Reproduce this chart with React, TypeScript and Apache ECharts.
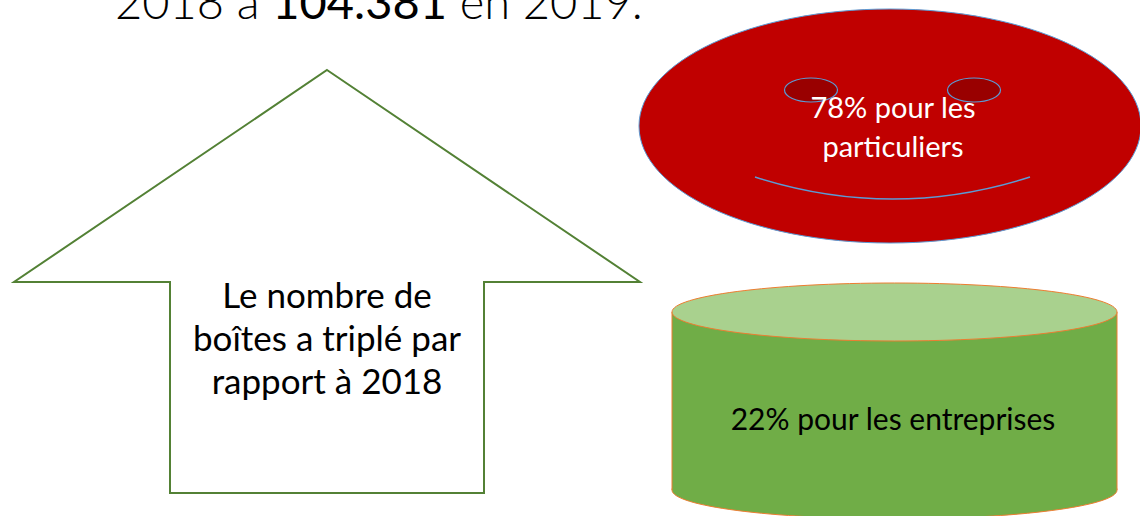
import React, { useEffect, useRef } from "react";
import * as echarts from "echarts";

// ---- content ----
const headlineParts = ["2018 à ", "104.381", " en 2019."];
const arrowLines = ["Le nombre de", "boîtes a triplé par", "rapport à 2018"];
const segmentNames = ["particuliers", "entreprises"];
const segmentShares = [78, 22];

const FONT = "Lato, 'Open Sans', sans-serif";

export default function App() {
  const ref = useRef<HTMLDivElement>(null);
  useEffect(() => {
    if (!ref.current) return;
    const chart = echarts.init(ref.current, null, { renderer: "svg" });
    const blue = "#5B9BD5";
    const option: any = {
      animation: false,
      backgroundColor: "#ffffff",
      graphic: [
        // headline (clipped at top, as in the reference)
        {
          type: "text",
          left: 115,
          top: -23,
          style: {
            text: `{a|${headlineParts[0]}}{b|${headlineParts[1]}}{a|${headlineParts[2]}}`,
            rich: {
              a: { fontFamily: FONT, fontSize: 47, fontWeight: 300, fill: "#000" },
              b: { fontFamily: FONT, fontSize: 47, fontWeight: "normal", fill: "#000" },
            },
          },
        },
        // up arrow
        {
          type: "polygon",
          shape: {
            points: [
              [327, 70],
              [640, 282],
              [484, 282],
              [484, 493],
              [170, 493],
              [170, 282],
              [14, 282],
            ],
          },
          style: { fill: "#ffffff", stroke: "#538135", lineWidth: 2 },
        },
        {
          type: "text",
          x: 327,
          y: 337,
          style: {
            text: arrowLines.join("\n"),
            fontFamily: FONT,
            fontSize: 35,
            lineHeight: 43,
            fill: "#000",
            align: "center",
            verticalAlign: "middle",
          },
        },
        // smiley face
        {
          type: "ellipse",
          shape: { cx: 890, cy: 126, rx: 251, ry: 117 },
          style: { fill: "#C00000", stroke: blue, lineWidth: 1 },
        },
        {
          type: "ellipse",
          shape: { cx: 811, cy: 90, rx: 26.5, ry: 12 },
          style: { fill: "#990000", stroke: blue, lineWidth: 1.2 },
        },
        {
          type: "ellipse",
          shape: { cx: 974, cy: 90, rx: 26.5, ry: 12 },
          style: { fill: "#990000", stroke: blue, lineWidth: 1.2 },
        },
        {
          type: "bezierCurve",
          shape: { x1: 755, y1: 177, x2: 1030, y2: 177, cpx1: 893, cpy1: 221 },
          style: { fill: "none", stroke: blue, lineWidth: 1.5 },
        },
        {
          type: "text",
          x: 893,
          y: 126,
          style: {
            text: `${segmentShares[0]}% pour les\n${segmentNames[0]}`,
            fontFamily: FONT,
            fontSize: 29,
            lineHeight: 39,
            fill: "#ffffff",
            align: "center",
            verticalAlign: "middle",
          },
        },
        // cylinder
        {
          type: "ellipse",
          shape: { cx: 894.5, cy: 490, rx: 222.5, ry: 29 },
          style: { fill: "#70AD47", stroke: "#ED7D31", lineWidth: 1 },
        },
        {
          type: "rect",
          shape: { x: 672, y: 312, width: 445, height: 178 },
          style: { fill: "#70AD47" },
        },
        {
          type: "line",
          shape: { x1: 672, y1: 312, x2: 672, y2: 490 },
          style: { stroke: "#ED7D31", lineWidth: 1 },
        },
        {
          type: "line",
          shape: { x1: 1117, y1: 312, x2: 1117, y2: 490 },
          style: { stroke: "#ED7D31", lineWidth: 1 },
        },
        {
          type: "ellipse",
          shape: { cx: 894.5, cy: 312, rx: 222.5, ry: 29 },
          style: { fill: "#A9D18E", stroke: "#ED7D31", lineWidth: 1 },
        },
        {
          type: "text",
          x: 893,
          y: 418,
          style: {
            text: `${segmentShares[1]}% pour les ${segmentNames[1]}`,
            fontFamily: FONT,
            fontSize: 30,
            fill: "#000",
            align: "center",
            verticalAlign: "middle",
          },
        },
      ],
    };
    chart.setOption(option);
    return () => chart.dispose();
  }, []);
  return (
    <div
      ref={ref}
      style={{ position: "fixed", left: 0, top: 0, width: 1140, height: 516 }}
    />
  );
}
